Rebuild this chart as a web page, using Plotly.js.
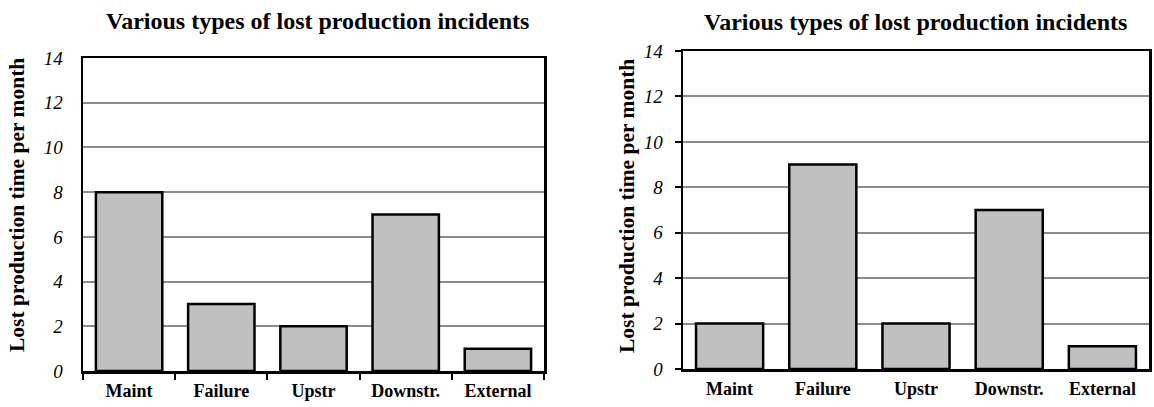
<!DOCTYPE html>
<html>
<head>
<meta charset="utf-8">
<script src="https://cdn.plot.ly/plotly-3.0.1.min.js"></script>
<style>html,body{margin:0;padding:0;background:#fff;}#chart{width:1154px;height:407px;}</style>
</head>
<body>
<div id="chart"></div>
<script>
const categories = ["Maint", "Failure", "Upstr", "Downstr.", "External"];
const leftValues = [8, 3, 2, 7, 1];
const rightValues = [2, 9, 2, 7, 1];
const yTicks = [0, 2, 4, 6, 8, 10, 12, 14];
const chartTitle = "Various types of lost production incidents";
const yTitle = "Lost production time per month";

const W = 1154, H = 407;
const serif = "Liberation Serif";
const barStyle = {color: "#c0c0c0", line: {color: "#000", width: 2.5}};

const traces = [
  {type: "bar", x: categories, y: leftValues, xaxis: "x", yaxis: "y", marker: barStyle, hoverinfo: "none"},
  {type: "bar", x: categories, y: rightValues, xaxis: "x2", yaxis: "y2", marker: barStyle, hoverinfo: "none"}
];

function yAx(domain, anchor, ticks, standoff) {
  return {
    domain: domain, anchor: anchor, range: [0, 14], tickvals: yTicks, ticktext: yTicks.map(String),
    showgrid: true, gridcolor: "#8c8c8c", gridwidth: 2, zeroline: false,
    showline: true, linecolor: "#000", linewidth: 2.5, mirror: true,
    ticks: ticks, ticklen: 6, tickwidth: 2, tickcolor: "#000", ticklabelstandoff: standoff,
    tickfont: {family: serif, size: 19, color: "#000", style: "italic"}, fixedrange: true
  };
}
function xAx(domain, anchor, ticks) {
  return {
    domain: domain, anchor: anchor, type: "category", tickson: "boundaries",
    showgrid: false, zeroline: false, showline: true, linecolor: "#000", linewidth: 2.5, mirror: true,
    ticks: ticks, ticklen: 6, tickwidth: 2, tickcolor: "#000", ticklabelstandoff: 2,
    tickfont: {family: serif, size: 18, color: "#000", weight: "bold"}, fixedrange: true
  };
}

const layout = {
  width: W, height: H, margin: {l: 0, r: 0, t: 0, b: 0},
  paper_bgcolor: "#fff", plot_bgcolor: "#fff", showlegend: false, bargap: 0.28,
  xaxis: xAx([83 / W, 544 / W], "y", "outside"),
  yaxis: yAx([1 - 371 / H, 1 - 58 / H], "x", "", 14),
  xaxis2: xAx([683 / W, 1149 / W], "y2", ""),
  yaxis2: yAx([1 - 369 / H, 1 - 51 / H], "x2", "outside", 8),
  annotations: [
    {text: "<b>" + chartTitle + "</b>", xref: "paper", yref: "paper", x: 317 / W, y: 1 - 21 / H,
     xanchor: "center", yanchor: "middle", showarrow: false, font: {family: serif, size: 24, color: "#000"}},
    {text: "<b>" + chartTitle + "</b>", xref: "paper", yref: "paper", x: 915 / W, y: 1 - 22 / H,
     xanchor: "center", yanchor: "middle", showarrow: false, font: {family: serif, size: 24, color: "#000"}},
    {text: "<b>" + yTitle + "</b>", xref: "paper", yref: "paper", x: 17 / W, y: 1 - 205 / H, textangle: -90,
     xanchor: "center", yanchor: "middle", showarrow: false, font: {family: serif, size: 21.5, color: "#000"}},
    {text: "<b>" + yTitle + "</b>", xref: "paper", yref: "paper", x: 627 / W, y: 1 - 206 / H, textangle: -90,
     xanchor: "center", yanchor: "middle", showarrow: false, font: {family: serif, size: 21.5, color: "#000"}}
  ]
};

Plotly.newPlot("chart", traces, layout, {staticPlot: true, displayModeBar: false});
</script>
</body>
</html>
